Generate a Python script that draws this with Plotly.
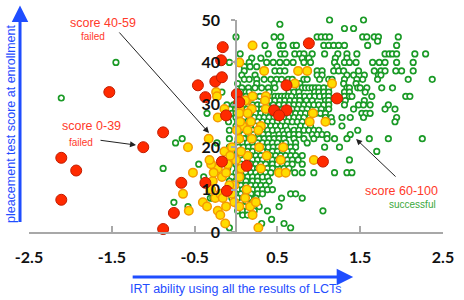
import plotly.graph_objects as go

# ---------------- data (ability, score) ----------------
# score 0-39, failed (red)
red_ability = [-1.53, -1.12, -2.11, -1.93, -2.11, -0.88, -0.66, -0.75, -0.88, -0.37,
               -0.17, -0.11, -0.16, -0.18, -0.46, -0.25, -0.17, -0.37, 0.01, 0.04,
               -0.12, 0.88, 0.61, 1.22, 0.46, 0.61, 0.52, 1.05, 0.13]
red_score = [33, 20, 17.5, 14.5, 7.6, 23.5, 11.6, 4.5, 0.7, 11.6,
             16.6, 9.7, 43.6, 40.5, 34.6, 35.5, 36.5, 31.8, 32.5, 30.6,
             27.5, 44.5, 34.6, 31.5, 28.7, 28.7, 27.5, 16.6, 15.6]

# score 40-59, failed (yellow)
yellow_ability = [0.04, -0.24, -0.14, -0.22, -0.23, 0.04, 0.08, 0.13, 0.2, 0.34,
                  0.75, 0.86, 0.71, 1.16, 0.2, 0.36, 0.11, 0.35, 0.19, 0.36,
                  0.04, 0.14, 0.05, 0.18, 0.93, 1.08, 0.89, 0.3, 0.14, 0.01,
                  0.27, 0.19, 0.04, 0.57, 0.28, 0.14, 0.37, 0.54, 0.94, 0.3,
                  0.52, 0.6, 0.06, 0.04, 0.13, 0.11, 0.23, 0.17, 0.2, -0.02,
                  -0.02, 0.04, 0.27, -0.33, -0.58, -0.14, -0.52, -0.64, -0.57, -0.4,
                  -0.35, -0.25, -0.22, -0.19, -0.13, -0.25, -0.22, -0.17, -0.19, -0.16,
                  -0.3, -0.1, -0.28, -0.05, 0.24, -0.32, -0.27, -0.12, -0.08, -0.3,
                  -0.05, -0.12, 0.0, -0.07, 0.06]
yellow_score = [40, 33, 29, 27, 32, 29, 25, 31, 44, 38,
                38, 38, 35, 35, 32, 32, 31, 31, 29, 29,
                28, 28, 26, 26, 28, 26, 26, 25, 24, 24,
                24, 22, 22, 20, 20, 18, 18, 17, 17, 15,
                14, 14, 15, 13, 10, 8, 7, 6, 4, 11,
                7, 6, 1, 22, 20, 19, 14, 9, 5, 7,
                6, 8, 5, 4, 2, 15, 15, 13, 9, 8,
                16, 16, 12, 20, 7, 17, 14, 14, 11, 10,
                9, 6, 17, 18, 19]

# score 60-100, successful (green): one list of abilities per score row
green_scores = list(range(50, 0, -1))
green_abilities = [
    [1.13, 1.54],                                                    # 50
    [0.53],                                                          # 49
    [1.31, 1.42],                                                    # 48
    [],                                                              # 47
    [0.0, 0.46, 0.54, 0.98, 1.03, 1.08, 1.13, 1.53, 1.58, 1.67, 1.72, 1.96],  # 46
    [1.71],                                                          # 45
    [0.35, 0.53, 0.57, 0.69, 0.73, 1.06, 1.12, 1.18, 1.24, 1.31, 1.59, 1.94],  # 44
    [],                                                              # 43
    [0.05, 0.39, 0.54, 0.59, 0.71, 0.77, 0.82, 0.92, 1.07, 1.23, 1.34, 1.46,
     1.8, 1.85, 1.89, 1.94, 2.16, 2.29],                             # 42
    [0.19, 0.3, 0.8, 0.88, 1.2, 1.34],                               # 41
    [-1.45, -0.08, 0.16, 0.37, 0.45, 0.53, 0.61, 0.69, 0.82, 0.9, 1.19, 1.31,
     1.37, 1.45, 1.65, 1.73, 1.8, 1.94, 2.14],                       # 40
    [0.1, 0.17, 0.25, 1.22],                                         # 39
    [0.1, 0.47, 0.53, 0.59, 0.98, 1.04, 1.18, 1.24, 1.3, 1.48, 1.67, 1.75,
     1.8, 1.93, 2.0, 2.14],                                          # 38
    [0.07, 0.23, 0.98, 1.04, 1.34, 1.42, 1.55, 1.72, 1.75],          # 37
    [0.1, 0.16, 0.25, 0.34, 0.42, 0.49, 0.55, 0.63, 0.68, 0.82, 0.86, 1.01,
     1.12, 1.16, 1.31, 1.46, 1.53, 1.71, 2.08, 2.37],                # 36
    [0.02, 0.25, 0.46, 0.77, 1.3, 1.45],                             # 35
    [0.07, 0.15, 0.23, 0.31, 0.39, 0.47, 0.76, 0.8, 0.84, 0.88, 0.92, 0.96,
     1.0, 1.06, 1.12, 1.34, 1.37, 1.47, 1.5, 1.58, 1.76, 1.89],      # 34
    [-0.17, 0.01, 0.06, 0.12, 0.16, 0.4, 0.64, 0.7, 0.76, 0.95, 1.0, 1.06,
     1.12, 1.31, 1.37, 1.56],                                        # 33
    [0.07, 0.12, 0.18, 0.23, 0.29, 0.35, 0.47, 0.51, 0.55, 0.59, 0.63, 0.67,
     0.77, 0.83, 0.89, 0.95, 1.01, 1.07, 1.12, 1.31, 1.37, 1.4, 1.64, 2.05, 2.1],  # 32
    [0.04, 0.1, 0.14, 0.41, 0.47, 0.53, 0.59, 0.65, 0.71, 0.77, 0.85, 0.92,
     1.08, 1.12, 1.32, 1.55],                                        # 31
    [-0.11, -0.03, 0.0, 0.05, 0.1, 0.15, 0.2, 0.26, 0.31, 0.37, 0.45, 0.52,
     0.58, 0.64, 0.7, 0.76, 0.82, 0.88, 0.94, 1.0, 1.06, 1.12, 1.31, 1.48,
     1.54, 1.62, 1.84],                                              # 30
    [-0.07, 0.07, 0.13, 0.19, 0.25, 0.31, 0.37, 0.5, 0.56, 0.62, 0.68, 0.74,
     0.8, 0.86, 1.03, 1.12, 1.42, 1.8, 1.92],                        # 29
    [-0.35, -0.05, 0.0, 0.06, 0.12, 0.18, 0.24, 0.3, 0.36, 0.42, 0.48, 0.54,
     0.6, 0.66, 0.72, 0.78, 0.84, 0.9, 0.96, 1.02, 1.08, 1.52, 1.57, 1.62],  # 28
    [-0.1, 0.0, 0.04, 0.1, 0.16, 0.22, 0.28, 0.34, 0.4, 0.46, 0.52, 0.58,
     0.64, 0.7, 0.76, 0.82, 0.89, 1.08, 1.15, 1.28, 1.38, 1.54, 1.94],  # 27
    [-0.09, 0.02, 0.08, 0.14, 0.2, 0.26, 0.32, 0.38, 0.44, 0.5, 0.56, 0.62,
     0.68, 0.74, 0.8, 1.16, 1.92],                                   # 26
    [0.0, 0.06, 0.12, 0.18, 0.24, 0.3, 0.36, 0.42, 0.48, 0.54, 0.6, 0.78,
     0.84, 0.9, 1.28],                                               # 25
    [-0.08, 0.02, 0.08, 0.14, 0.2, 0.26, 0.32, 0.38, 0.44, 0.5, 0.62, 0.7,
     0.76, 0.82, 0.88, 0.94, 1.0, 1.47],                             # 24
    [0.03, 0.09, 0.15, 0.21, 0.27, 0.33, 0.39, 0.52, 0.58, 0.64, 0.7, 0.76,
     0.92, 0.98, 1.04, 1.1, 1.38],                                   # 23
    [-0.65, -0.08, 0.04, 0.1, 0.16, 0.22, 0.28, 0.34, 0.4, 0.46, 0.52, 0.58,
     0.7, 0.82, 0.94, 1.1, 1.19, 1.34, 1.61, 1.84, 2.25],            # 22
    [-0.73, -0.23, 0.02, 0.08, 0.14, 0.2, 0.26, 0.32, 0.38, 0.44, 0.5, 0.6,
     0.72, 0.86],                                                    # 21
    [-0.08, 0.03, 0.09, 0.15, 0.21, 0.33, 0.39, 0.45, 0.51, 0.6, 0.66, 0.72,
     1.07, 1.25],                                                    # 20
    [-0.05, 0.02, 0.08, 0.14, 0.2, 0.26, 0.32, 0.44, 0.5, 0.56, 0.62, 0.68, 1.7],  # 19
    [-0.12, 0.0, 0.06, 0.12, 0.18, 0.24, 0.3, 0.42, 0.48, 0.54, 0.6, 0.66,
     0.72, 0.8],                                                     # 18
    [0.02, 0.08, 0.2, 0.26, 0.32, 0.38, 0.44, 0.5, 0.56, 0.62, 0.68, 0.75, 1.37],  # 17
    [-0.45, -0.08, 0.0, 0.06, 0.12, 0.18, 0.24, 0.3, 0.36, 0.44, 0.5, 0.56,
     0.62, 0.68, 0.8],                                               # 16
    [-0.88, -0.1, 0.02, 0.08, 0.14, 0.2, 0.26, 0.32, 0.38, 0.44, 0.58, 0.64],  # 15
    [0.0, 0.06, 0.12, 0.18, 0.24, 0.3, 0.36, 0.42, 0.71, 0.8, 0.94, 1.19, 1.34, 1.4],  # 14
    [-0.39, -0.05, 0.02, 0.08, 0.14, 0.2, 0.26, 0.32, 0.38],         # 13
    [-0.08, 0.0, 0.06, 0.12, 0.2, 0.26, 0.4],                        # 12
    [0.0, 0.06, 0.12, 0.18, 0.24, 0.3, 0.36],                        # 11
    [-0.1, 0.02, 0.08, 0.14, 0.2, 0.26, 0.32, 0.38, 0.44],           # 10
    [0.0, 0.06, 0.12, 0.18, 0.26, 0.32, 0.66, 0.72],                 # 9
    [-0.31, -0.28, -0.05, 0.02, 0.08, 0.16, 0.24, 0.55, 0.8],        # 8
    [-0.75, 0.0, 0.06, 0.12, 0.2],                                   # 7
    [-0.58, 0.04, 0.1, 0.18, 0.28, 0.52],                            # 6
    [0.02, 0.08, 0.14, 0.22, 0.38, 1.05],                            # 5
    [0.08, 0.14],                                                    # 4
    [0.43],                                                          # 3
    [0.31, 0.58],                                                    # 2
    [-0.08, 0.66],                                                   # 1
]
extra_green_ability = [-2.11]
extra_green_score = [31.6]

x_ticks = [-2.5, -1.5, -0.5, 0.5, 1.5, 2.5]
x_tick_labels = ["-2.5", "-1.5", "-0.5", "0.5", "1.5", "2.5"]
y_ticks = [0, 10, 20, 30, 40, 50]

green_x, green_y = [], []
for s, xs in zip(green_scores, green_abilities):
    for a in xs:
        green_x.append(a)
        green_y.append(s)
green_x += extra_green_ability
green_y += extra_green_score

# ---------------- figure ----------------
fig = go.Figure()
fig.add_trace(go.Scatter(
    x=green_x, y=green_y, mode="markers", cliponaxis=False,
    marker=dict(size=5.5, color="white", line=dict(color="#1a9a26", width=1.7)),
    showlegend=False, hoverinfo="skip"))
fig.add_trace(go.Scatter(
    x=yellow_ability, y=yellow_score, mode="markers", cliponaxis=False,
    marker=dict(size=8.5, color="#ffdc00", line=dict(color="#f59a00", width=1.5)),
    showlegend=False, hoverinfo="skip"))
fig.add_trace(go.Scatter(
    x=red_ability, y=red_score, mode="markers", cliponaxis=False,
    marker=dict(size=11, color="#ff2a00", line=dict(color="#c21d00", width=1)),
    showlegend=False, hoverinfo="skip"))

tick_font = dict(family="Lato", size=16, color="#111111", weight="bold")
fig.update_layout(
    width=464, height=300,
    margin=dict(l=29, r=21, t=20, b=68, autoexpand=False),
    paper_bgcolor="white", plot_bgcolor="white",
    xaxis=dict(range=[-2.5, 2.5], tickvals=x_ticks, ticktext=x_tick_labels,
               showgrid=False, zeroline=False, showline=True, automargin=False,
               linecolor="#a8a8a8", linewidth=1.5,
               ticks="inside", ticklen=6, tickwidth=1.5, tickcolor="#a8a8a8",
               tickfont=tick_font, ticklabelstandoff=10, fixedrange=True),
    yaxis=dict(range=[0, 50], tickvals=y_ticks, anchor="free", position=0.5,
               showgrid=False, zeroline=False, showline=True, automargin=False,
               linecolor="#a8a8a8", linewidth=1.5,
               ticks="outside", ticklen=4, tickwidth=1.5, tickcolor="#a8a8a8",
               tickfont=tick_font, ticklabelstandoff=8, layer="above traces",
               fixedrange=True),
)

blue = "#1f4dff"
txt_font = "Liberation Sans"
red_txt = "#ff3a2a"
ann = []
# blue axis arrows
ann.append(dict(xref="paper", yref="paper", x=-0.0217, y=1.068, ax=0, ay=218,
                axref="pixel", ayref="pixel", text="", showarrow=True,
                arrowhead=2, arrowsize=1.1, arrowwidth=3, arrowcolor=blue, standoff=0))
ann.append(dict(xref="paper", yref="paper", x=0.783, y=-0.212, ax=-222, ay=0,
                text="", showarrow=True,
                arrowhead=2, arrowsize=1.1, arrowwidth=3, arrowcolor=blue, standoff=0))
# axis titles
ann.append(dict(xref="paper", yref="paper", x=-0.0435, y=0.514, showarrow=False,
                xanchor="center", yanchor="middle",
                text="pleacement test score at enrollment", textangle=-90,
                font=dict(family=txt_font, size=12.5, color=blue)))
ann.append(dict(xref="paper", yref="paper", x=0.4976, y=-0.269, showarrow=False,
                xanchor="center", yanchor="middle",
                text="IRT ability using all the results of LCTs",
                font=dict(family=txt_font, size=12.5, color=blue)))
# black pointer arrows
for hx, hy, axp, ayp in [(0.4348, 0.467, -91, -102), (0.2585, 0.41, -37, -5),
                         (0.79, 0.4387, 41, 39)]:
    ann.append(dict(xref="paper", yref="paper", x=hx, y=hy, ax=axp, ay=ayp,
                    text="", showarrow=True, arrowhead=2, arrowsize=1.2,
                    arrowwidth=1, arrowcolor="#222222", standoff=0))
# labels
for tx, x, y, size, col in [
        ("score 40-59", 0.179, 0.986, 12.5, red_txt),
        ("failed", 0.1546, 0.92, 10, red_txt),
        ("score 0-39", 0.1498, 0.5, 12.5, red_txt),
        ("failed", 0.1256, 0.42, 10, red_txt),
        ("score 60-100", 0.8986, 0.193, 12.5, red_txt),
        ("successful", 0.9275, 0.132, 10, "#3aa83a")]:
    ann.append(dict(xref="paper", yref="paper", x=x, y=y, showarrow=False,
                    xanchor="center", yanchor="middle",
                    text=tx, font=dict(family=txt_font, size=size, color=col)))
fig.update_layout(annotations=ann)

fig.write_html("out.html", config={"displayModeBar": False},
               post_script="document.body.style.margin='0';document.body.style.padding='0';")
